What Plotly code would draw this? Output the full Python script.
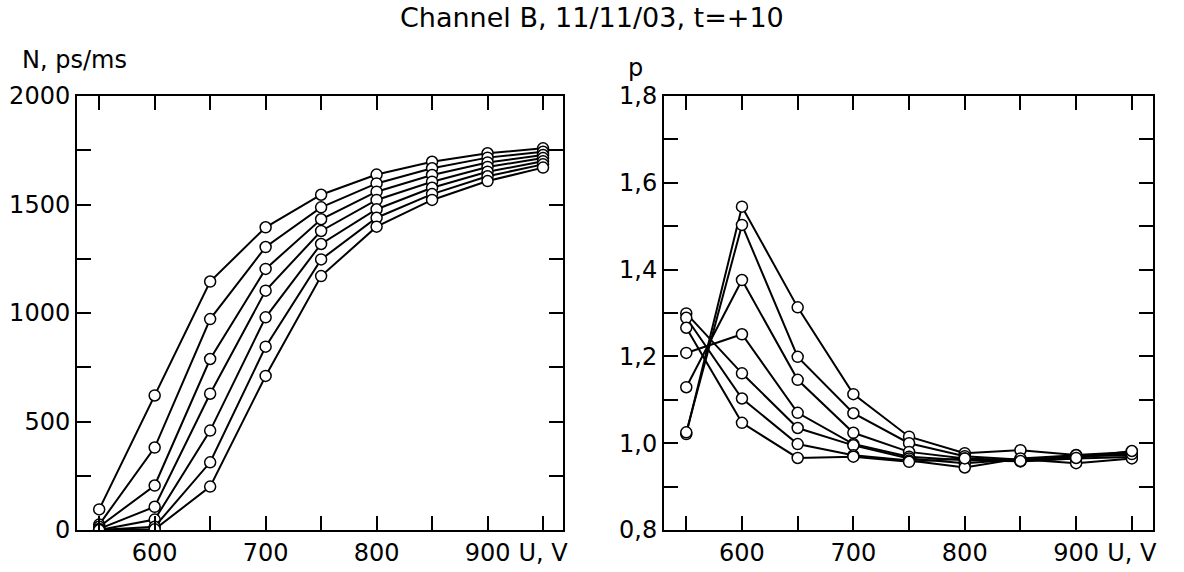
import plotly.graph_objects as go

U = [550, 600, 650, 700, 750, 800, 850, 900, 950]

N1 = [95, 620, 1145, 1395, 1545, 1638, 1697, 1736, 1759]
N2 = [25, 380, 972, 1304, 1487, 1597, 1667, 1716, 1743]
N3 = [15, 205, 788, 1203, 1432, 1559, 1636, 1694, 1728]
N4 = [5, 107, 628, 1103, 1378, 1521, 1605, 1673, 1714]
N5 = [0, 48, 458, 980, 1318, 1478, 1577, 1651, 1699]
N6 = [0, 15, 312, 845, 1247, 1439, 1548, 1630, 1685]
N7 = [0, 3, 200, 710, 1170, 1398, 1521, 1608, 1670]

P1 = [1.021, 1.545, 1.313, 1.113, 1.015, 0.977, 0.984, 0.973, 0.980]
P2 = [1.025, 1.503, 1.199, 1.069, 1.000, 0.970, 0.962, 0.968, 0.977]
P3 = [1.129, 1.376, 1.146, 1.024, 0.980, 0.965, 0.960, 0.970, 0.972]
P4 = [1.208, 1.251, 1.070, 0.998, 0.969, 0.961, 0.958, 0.965, 0.968]
P5 = [1.299, 1.161, 1.035, 0.995, 0.965, 0.954, 0.963, 0.954, 0.965]
P6 = [1.289, 1.103, 0.998, 0.972, 0.960, 0.944, 0.965, 0.972, 0.975]
P7 = [1.266, 1.047, 0.966, 0.969, 0.957, 0.965, 0.959, 0.966, 0.982]

x_tickvals = [550, 600, 650, 700, 750, 800, 850, 900, 950]
x_ticktext = ["", "600", "", "700", "", "800", "", "900", "U, V"]
yl_tickvals = [0, 250, 500, 750, 1000, 1250, 1500, 1750, 2000]
yl_ticktext = ["0", "", "500", "", "1000", "", "1500", "", "2000"]
yr_tickvals = [0.8, 0.9, 1.0, 1.1, 1.2, 1.3, 1.4, 1.5, 1.6, 1.7, 1.8]
yr_ticktext = ["0,8", "", "1,0", "", "1,2", "", "1,4", "", "1,6", "", "1,8"]

title = "Channel B, 11/11/03, t=+10"
FONT = "DejaVu Sans, Liberation Sans, Arial, sans-serif"

fig = go.Figure()
marker = dict(symbol="circle", size=11, color="white", line=dict(color="black", width=1.5))
for s in [N1, N2, N3, N4, N5, N6, N7]:
    fig.add_trace(go.Scatter(x=U, y=s, mode="lines+markers", xaxis="x", yaxis="y",
                             line=dict(color="black", width=2), marker=marker,
                             showlegend=False, hoverinfo="skip"))
for s in [P1, P2, P3, P4, P5, P6, P7]:
    fig.add_trace(go.Scatter(x=U, y=s, mode="lines+markers", xaxis="x2", yaxis="y2",
                             line=dict(color="black", width=2), marker=marker,
                             showlegend=False, hoverinfo="skip"))

W, H = 1184, 572
def fx(px):
    return px / W
def fy(py):
    return 1 - py / H

axis_common = dict(showgrid=False, zeroline=False, showline=True, linecolor="black",
                   linewidth=2, mirror="ticks", ticks="inside", ticklen=14,
                   tickwidth=1.5, tickcolor="black", automargin=False,
                   tickfont=dict(family=FONT, size=24, color="black"))

fig.update_layout(
    width=W, height=H,
    margin=dict(l=0, r=0, t=0, b=0, autoexpand=False),
    paper_bgcolor="white", plot_bgcolor="white",
    font=dict(family=FONT, color="black"),
    xaxis=dict(domain=[fx(77), fx(563)], range=[530, 968], anchor="y",
               tickmode="array", tickvals=x_tickvals, ticktext=x_ticktext, **axis_common),
    yaxis=dict(domain=[fy(530), fy(96)], range=[0, 2000], anchor="x",
               tickmode="array", tickvals=yl_tickvals, ticktext=yl_ticktext, **axis_common),
    xaxis2=dict(domain=[fx(664), fx(1153)], range=[530, 969], anchor="y2",
                tickmode="array", tickvals=x_tickvals, ticktext=x_ticktext, **axis_common),
    yaxis2=dict(domain=[fy(530), fy(96)], range=[0.8, 1.8], anchor="x2",
                tickmode="array", tickvals=yr_tickvals, ticktext=yr_ticktext, **axis_common),
    annotations=[
        dict(text=title, x=fx(592), y=fy(18), xref="paper", yref="paper", showarrow=False,
             xanchor="center", yanchor="middle", font=dict(family=FONT, size=27)),
        dict(text="N, ps/ms", x=fx(20), y=fy(60), xref="paper", yref="paper", showarrow=False,
             xanchor="left", yanchor="middle", font=dict(family=FONT, size=24)),
        dict(text="p", x=fx(626), y=fy(68), xref="paper", yref="paper", showarrow=False,
             xanchor="left", yanchor="middle", font=dict(family=FONT, size=24)),
    ],
)

fig.write_html("out.html", config={"displayModeBar": False},
               post_script="document.body.style.margin='0px';")
